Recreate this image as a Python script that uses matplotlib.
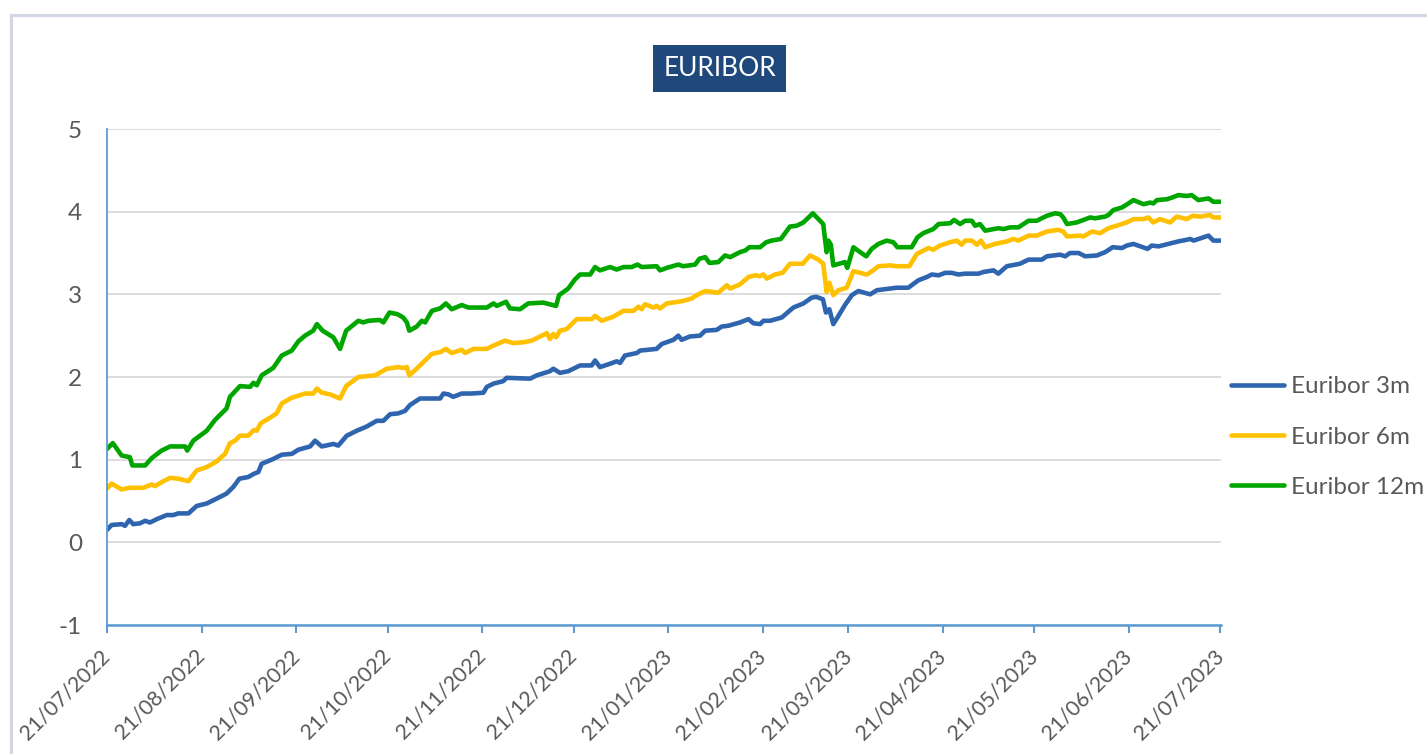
import numpy as np
import pandas as pd
import matplotlib
matplotlib.use("Agg")
import matplotlib.pyplot as plt
import matplotlib.dates as mdates
from matplotlib.patches import Rectangle
from matplotlib.lines import Line2D

plt.rcParams['font.family'] = ['Lato', 'DejaVu Sans']

# (days since 21/07/2022, rate %)
eur_3m = [(0, 0.15), (1.5, 0.21), (4.8, 0.22), (5.9, 0.20), (7.3, 0.27), (8.6, 0.22), (10.8, 0.23),
          (12.5, 0.26), (14.1, 0.24), (16.3, 0.28), (19.6, 0.33), (21.7, 0.33), (23.4, 0.35), (26.7, 0.35),
          (29.4, 0.44), (32.7, 0.47), (36, 0.53), (39.2, 0.59), (41.4, 0.67), (43.4, 0.77), (46.3, 0.79),
          (48.2, 0.83), (49.6, 0.85), (50.7, 0.95), (54, 1.00), (57.3, 1.06), (60.6, 1.07), (62.7, 1.12),
          (66.6, 1.16), (68.2, 1.23), (70.4, 1.16), (74.2, 1.19), (75.8, 1.17), (78.6, 1.29), (81.9, 1.35),
          (85.1, 1.40), (88.4, 1.47), (90.6, 1.47), (92.8, 1.55), (95.5, 1.56), (97.7, 1.59), (99.3, 1.66),
          (102.6, 1.74), (109.2, 1.74), (110.3, 1.80), (111.9, 1.79), (113.5, 1.76), (116.3, 1.80),
          (119.6, 1.80), (123.4, 1.81), (124.5, 1.88), (126.7, 1.92), (129.9, 1.95), (131, 1.99),
          (138.7, 1.98), (140.9, 2.02), (145.2, 2.07), (146.3, 2.10), (148.5, 2.05), (151.2, 2.07),
          (155.1, 2.14), (158.9, 2.14), (160, 2.20), (161.6, 2.12), (164.9, 2.16), (167.1, 2.19),
          (168.2, 2.17), (169.8, 2.26), (173.7, 2.29), (174.8, 2.32), (180.2, 2.34), (181.9, 2.40),
          (185.7, 2.45), (187.3, 2.50), (188.4, 2.45), (191.1, 2.49), (194.4, 2.50), (196.1, 2.56),
          (199.9, 2.57), (201.5, 2.61), (203.7, 2.62), (207.5, 2.66), (210.3, 2.70), (211.9, 2.65),
          (214.1, 2.64), (215.2, 2.68), (217.4, 2.68), (221.2, 2.72), (225, 2.84), (228.3, 2.89),
          (231, 2.96), (232.5, 2.97), (234.7, 2.94), (235.7, 2.78), (236.8, 2.82), (238.1, 2.64),
          (239.8, 2.74), (241.9, 2.87), (244.2, 2.99), (246.3, 3.04), (250.2, 3.00), (252.4, 3.05),
          (256.7, 3.07), (258.9, 3.08), (262.7, 3.08), (266, 3.17), (268.8, 3.21), (270.4, 3.24),
          (272.6, 3.23), (274.8, 3.26), (276.9, 3.26), (279.1, 3.24), (281.3, 3.25), (285.7, 3.25),
          (287.3, 3.27), (290.6, 3.29), (292.2, 3.25), (295, 3.34), (299.3, 3.37), (302.1, 3.42),
          (306.5, 3.42), (308.1, 3.46), (312.5, 3.48), (314.1, 3.46), (315.7, 3.50), (318.5, 3.50),
          (320.7, 3.46), (324.5, 3.47), (327.2, 3.51), (329.7, 3.57), (332.7, 3.56), (334.3, 3.59),
          (336.5, 3.61), (341.1, 3.55), (342.5, 3.59), (344.7, 3.58), (348, 3.61), (351.2, 3.64),
          (354, 3.66), (355.1, 3.67), (356.2, 3.65), (357.8, 3.67), (361.1, 3.71), (362.7, 3.65),
          (365, 3.65)]

eur_6m = [(0, 0.65), (1.5, 0.71), (4.8, 0.64), (7.5, 0.66), (11.9, 0.66), (14.7, 0.70), (15.7, 0.68),
          (18.5, 0.74), (20.7, 0.78), (23.4, 0.77), (26.7, 0.74), (29.4, 0.87), (32.7, 0.91), (36, 0.98),
          (38.7, 1.07), (40.3, 1.20), (42, 1.23), (43.6, 1.29), (46.3, 1.29), (48.2, 1.36), (49.1, 1.35),
          (50.4, 1.44), (54, 1.52), (55.6, 1.56), (57.3, 1.68), (60.6, 1.75), (63.3, 1.78), (64.9, 1.80),
          (67.6, 1.80), (68.8, 1.86), (70.4, 1.81), (73.1, 1.79), (76.4, 1.74), (78.4, 1.89), (82.4, 2.00),
          (85.1, 2.01), (87.9, 2.02), (91.7, 2.10), (95.5, 2.12), (97.1, 2.11), (98.3, 2.12), (99.1, 2.02),
          (101.5, 2.10), (104.3, 2.20), (106.5, 2.28), (109.2, 2.30), (111.1, 2.34), (113, 2.29),
          (116.3, 2.33), (117.4, 2.29), (120.1, 2.34), (124.5, 2.34), (126.7, 2.38), (130.5, 2.44),
          (133.2, 2.41), (136.5, 2.42), (139.2, 2.44), (144.2, 2.53), (145.2, 2.46), (146.3, 2.52),
          (147.2, 2.48), (148.5, 2.56), (150.7, 2.58), (154, 2.70), (158.9, 2.70), (160, 2.74),
          (162.2, 2.68), (166, 2.73), (169.3, 2.80), (172.6, 2.80), (174.2, 2.85), (175.3, 2.82),
          (176.4, 2.88), (179.1, 2.84), (180.2, 2.86), (181.3, 2.83), (183.5, 2.89), (187.3, 2.91),
          (188.8, 2.92), (191.7, 2.95), (193.3, 2.99), (196.1, 3.04), (200.4, 3.02), (203.2, 3.11),
          (204.3, 3.07), (207.5, 3.12), (210.3, 3.21), (212.5, 3.23), (214.1, 3.22), (215.2, 3.24),
          (216.3, 3.19), (219, 3.24), (221.5, 3.26), (223.9, 3.37), (228.1, 3.37), (230.5, 3.47),
          (233.2, 3.42), (234.8, 3.37), (235.9, 3.03), (236.8, 3.14), (238.1, 2.99), (239.8, 3.05),
          (242.5, 3.08), (244.7, 3.28), (249.1, 3.24), (251.2, 3.29), (252.9, 3.34), (256.7, 3.35),
          (258.9, 3.34), (263, 3.34), (265.5, 3.49), (269.3, 3.56), (270.9, 3.54), (273.1, 3.59),
          (276.4, 3.63), (278.6, 3.65), (280.2, 3.60), (281.3, 3.65), (283.5, 3.65), (285.2, 3.60),
          (286.5, 3.65), (287.9, 3.57), (291.1, 3.61), (295, 3.64), (297.1, 3.67), (298.8, 3.65),
          (302.1, 3.71), (304.8, 3.71), (308.1, 3.76), (311.9, 3.78), (313.5, 3.76), (314.7, 3.70),
          (319, 3.71), (320.1, 3.70), (322.9, 3.76), (325.6, 3.74), (328.3, 3.80), (331, 3.83),
          (334.3, 3.87), (336.5, 3.91), (339.8, 3.91), (341.4, 3.93), (343, 3.87), (345.2, 3.91),
          (348.5, 3.87), (350.7, 3.94), (354, 3.91), (355.9, 3.95), (358.4, 3.94), (361.6, 3.96),
          (362.7, 3.93), (365, 3.93)]

eur_12m = [(0, 1.13), (1.9, 1.20), (4.8, 1.05), (7.5, 1.03), (8.3, 0.93), (12.5, 0.93), (14.7, 1.02),
           (17.9, 1.11), (20.7, 1.16), (25.6, 1.16), (26.3, 1.11), (28.3, 1.23), (32.7, 1.35), (35.4, 1.48),
           (39.2, 1.62), (40.3, 1.76), (43.6, 1.89), (46.9, 1.88), (48, 1.93), (49.1, 1.90), (50.7, 2.02),
           (54.5, 2.11), (57.3, 2.26), (60.6, 2.32), (62.7, 2.43), (64.9, 2.50), (67.6, 2.56), (68.8, 2.64),
           (70.7, 2.56), (74.2, 2.48), (76.4, 2.34), (78.4, 2.56), (82.4, 2.68), (84, 2.66), (85.7, 2.68),
           (89.5, 2.69), (90.6, 2.66), (92.6, 2.78), (95.2, 2.76), (97.1, 2.72), (98.3, 2.66), (99.1, 2.56),
           (101.5, 2.61), (103.2, 2.68), (104.3, 2.66), (106.5, 2.80), (109.2, 2.83), (111.1, 2.89),
           (113, 2.82), (116.3, 2.87), (118.5, 2.84), (124.5, 2.84), (126.7, 2.89), (127.8, 2.86),
           (130.8, 2.91), (132.1, 2.83), (135.4, 2.82), (138.1, 2.89), (143, 2.90), (147.2, 2.86),
           (148.2, 2.99), (151.2, 3.07), (153.4, 3.18), (155.1, 3.24), (158.4, 3.24), (160, 3.33),
           (161.6, 3.29), (164.9, 3.33), (167.1, 3.30), (169.3, 3.33), (172, 3.33), (173.9, 3.36),
           (175.3, 3.33), (180.2, 3.34), (181.3, 3.29), (183.5, 3.32), (187.3, 3.36), (188.9, 3.34),
           (192.8, 3.36), (194.2, 3.43), (196.1, 3.45), (197.5, 3.38), (200.4, 3.39), (202.6, 3.47),
           (204.3, 3.45), (207.5, 3.51), (209.2, 3.53), (210.6, 3.57), (214.1, 3.57), (216.1, 3.63),
           (217.9, 3.65), (220.9, 3.67), (222.3, 3.74), (223.9, 3.82), (226.1, 3.83), (228.3, 3.87),
           (231.4, 3.98), (234.8, 3.85), (235.9, 3.51), (236.5, 3.65), (237.3, 3.60), (238.1, 3.35),
           (241.9, 3.39), (242.7, 3.32), (244.7, 3.57), (246.9, 3.51), (248.9, 3.46), (250.7, 3.55),
           (252.9, 3.61), (255.6, 3.65), (257.8, 3.63), (259.1, 3.57), (263.8, 3.57), (265.7, 3.69),
           (267.6, 3.74), (270.9, 3.79), (272.6, 3.85), (276.4, 3.86), (277.7, 3.90), (279.7, 3.85),
           (281.3, 3.89), (283.5, 3.89), (284.6, 3.83), (286.2, 3.85), (287.9, 3.77), (292.2, 3.80),
           (293.9, 3.79), (296.1, 3.81), (298.8, 3.81), (302.1, 3.89), (304.8, 3.89), (308.1, 3.95),
           (310.8, 3.98), (312.5, 3.97), (313.5, 3.93), (314.7, 3.85), (317.9, 3.87), (322.3, 3.93),
           (323.9, 3.92), (327.2, 3.94), (328.3, 3.96), (329.9, 4.02), (332.7, 4.05), (334.9, 4.10),
           (336.5, 4.14), (339.8, 4.09), (342, 4.11), (343, 4.10), (344.2, 4.14), (347.4, 4.15),
           (349.1, 4.17), (351.2, 4.20), (354, 4.19), (355.6, 4.20), (357.8, 4.14), (361.1, 4.16),
           (362.7, 4.12), (365, 4.12)]

series = [("Euribor 3m", eur_3m, "#2F65AF"),
          ("Euribor 6m", eur_6m, "#FFC000"),
          ("Euribor 12m", eur_12m, "#00A600")]

start = pd.Timestamp("2022-07-21")
tick_dates = pd.date_range(start, periods=13, freq=pd.DateOffset(months=1))
y_ticks = [-1, 0, 1, 2, 3, 4, 5]

W, H = 1427, 754
txt_col = "#595959"
axis_col = "#5B9BD5"
fs = 17.5

fig = plt.figure(figsize=(W / 100, H / 100), dpi=100)
ax = fig.add_axes([107 / W, 1 - 625 / H, (1221 - 107) / W, (625 - 129) / H])

for name, data, col in series:
    d, v = zip(*data)
    dates = start + pd.to_timedelta(np.array(d), unit="D")
    ax.plot(dates, v, color=col, lw=3.3, label=name, solid_joinstyle="round", solid_capstyle="round")

ax.set_ylim(-1, 5)
ax.set_xlim(start, start + pd.Timedelta(days=365.2))
ax.set_yticks(y_ticks)
ax.set_yticklabels([str(t) for t in y_ticks], fontsize=fs, color=txt_col)
ax.grid(axis="y", color="#D9D9D9", lw=1.3)
ax.set_axisbelow(True)

ax.set_xticks(tick_dates)
ax.xaxis.set_major_formatter(mdates.DateFormatter("%d/%m/%Y"))
for lab in ax.get_xticklabels():
    lab.set_rotation(45)
    lab.set_ha("right")
    lab.set_va("center")
    lab.set_rotation_mode("anchor")
    lab.set_fontsize(15.3)
    lab.set_color(txt_col)

ax.tick_params(axis="x", length=6, width=1.5, color=axis_col, pad=14)
ax.tick_params(axis="y", length=0, pad=18)
for s in ["top", "right"]:
    ax.spines[s].set_visible(False)
ax.spines["left"].set_color(axis_col)
ax.spines["left"].set_linewidth(1.3)
ax.spines["bottom"].set_color(axis_col)
ax.spines["bottom"].set_linewidth(1.8)

ax.legend(loc="center left", bbox_to_anchor=(1231 / W, 1 - 437 / H), bbox_transform=fig.transFigure,
          frameon=False, fontsize=fs, labelcolor=txt_col, handlelength=2.2, handletextpad=0.25,
          labelspacing=1.2, borderaxespad=0, borderpad=0)

# title box
fig.add_artist(Rectangle((653 / W, 1 - 92 / H), 133 / W, 47 / H, transform=fig.transFigure,
                         facecolor="#1F497D", edgecolor="none"))
fig.text(719.5 / W, 1 - 68.5 / H, "EURIBOR", color="white", fontsize=19, ha="center", va="center")

# outer chart frame
fig.add_artist(Line2D([11 / W, 11 / W], [0, 1 - 14.5 / H], transform=fig.transFigure, color="#D3D6E5", lw=2.3))
fig.add_artist(Line2D([11 / W, 1], [1 - 14.5 / H, 1 - 14.5 / H], transform=fig.transFigure, color="#D3D6E5", lw=2.3))

fig.savefig("out.png", dpi=100, facecolor="white")
